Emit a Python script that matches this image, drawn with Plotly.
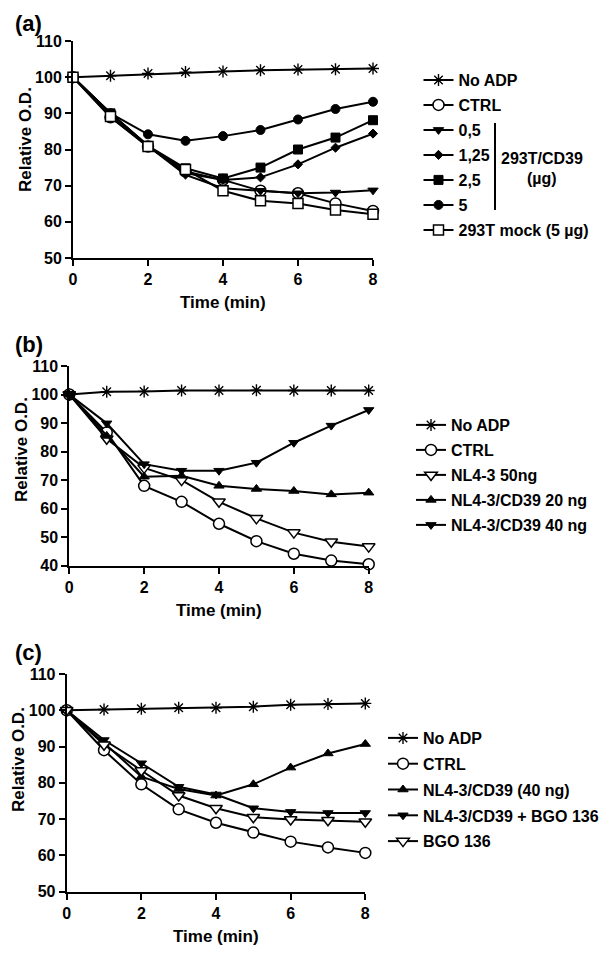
import plotly.graph_objects as go

W, H = 611, 959

time_min = [0, 1, 2, 3, 4, 5, 6, 7, 8]

# Panel (a)
a_no_adp = [100, 100.4, 101.0, 101.4, 101.6, 101.9, 102.1, 102.2, 102.4]
a_ctrl = [100, 88.9, 80.8, 73.9, 71.6, 68.6, 67.9, 65.1, 63.0]
a_05 = [100, 90.0, 81.0, 73.0, 69.3, 68.6, 67.9, 68.1, 68.7]
a_125 = [100, 90.0, 81.0, 73.5, 71.6, 72.3, 75.9, 80.5, 84.4]
a_25 = [100, 90.0, 81.0, 74.8, 72.0, 75.0, 80.0, 83.3, 88.1]
a_5 = [100, 90.0, 84.2, 82.4, 83.7, 85.4, 88.3, 91.2, 93.2]
a_mock = [100, 89.1, 80.8, 74.5, 68.6, 65.8, 65.1, 63.3, 62.1]

# Panel (b)
b_no_adp = [100, 101.0, 101.1, 101.4, 101.4, 101.5, 101.4, 101.4, 101.4]
b_ctrl = [100, 86.7, 68.0, 62.4, 54.7, 48.6, 44.2, 41.8, 40.5]
b_nl43_50 = [100, 84.5, 74.3, 70.0, 62.4, 56.6, 51.6, 48.4, 46.7]
b_cd39_20 = [100, 85.5, 71.2, 71.5, 68.0, 66.9, 66.2, 65.0, 65.6]
b_cd39_40 = [100, 89.9, 75.6, 73.3, 73.3, 76.1, 83.1, 89.1, 94.6]

# Panel (c)
c_no_adp = [100, 100.2, 100.4, 100.7, 100.7, 101.0, 101.5, 101.7, 101.9]
c_ctrl = [100, 89.0, 79.6, 72.7, 69.0, 66.3, 63.8, 62.2, 60.7]
c_cd39_40 = [100, 91.0, 81.7, 78.3, 76.5, 79.6, 84.2, 88.1, 90.7]
c_cd39_bgo = [100, 91.8, 85.4, 78.9, 76.8, 73.0, 72.0, 71.7, 71.7]
c_bgo = [100, 90.5, 83.4, 76.5, 73.0, 70.5, 69.9, 69.7, 69.3]

FONT = "Liberation Sans, Arial, Helvetica, sans-serif"


def px(x):
    return x / W


def py(y):
    return 1 - y / H


STYLES = {
    "asterisk": dict(symbol="asterisk-open", size=10, color="black", line=dict(color="black", width=1.4)),
    "ocircle": dict(symbol="circle", size=11, color="white", line=dict(color="black", width=1.5)),
    "fcircle": dict(symbol="circle", size=9, color="black", line=dict(color="black", width=1)),
    "fsquare": dict(symbol="square", size=9, color="black", line=dict(color="black", width=1)),
    "osquare": dict(symbol="square", size=10, color="white", line=dict(color="black", width=1.5)),
    "diamond": dict(symbol="diamond", size=7, color="black", line=dict(color="black", width=1)),
    "ftridown": dict(symbol="triangle-down", size=9, color="black", line=dict(color="black", width=1)),
    "otridown": dict(symbol="triangle-down", size=11, color="white", line=dict(color="black", width=1.5)),
    "ftriup": dict(symbol="triangle-up", size=9, color="black", line=dict(color="black", width=1)),
}

fig = go.Figure()


def add(name, ys, style, axis, legend):
    fig.add_trace(go.Scatter(
        x=time_min, y=ys, name=name, mode="lines+markers",
        line=dict(color="black", width=2),
        marker=STYLES[style],
        xaxis="x" + axis, yaxis="y" + axis,
        legend=legend, legendgroup=name + legend,
        cliponaxis=False,
    ))


add("No ADP", a_no_adp, "asterisk", "", "legend")
add("CTRL", a_ctrl, "ocircle", "", "legend")
add("0,5", a_05, "ftridown", "", "legend")
add("1,25", a_125, "diamond", "", "legend")
add("2,5", a_25, "fsquare", "", "legend")
add("5", a_5, "fcircle", "", "legend")
add("293T mock (5 µg)", a_mock, "osquare", "", "legend")

add("No ADP", b_no_adp, "asterisk", "2", "legend2")
add("CTRL", b_ctrl, "ocircle", "2", "legend2")
add("NL4-3 50ng", b_nl43_50, "otridown", "2", "legend2")
add("NL4-3/CD39 20 ng", b_cd39_20, "ftriup", "2", "legend2")
add("NL4-3/CD39 40 ng", b_cd39_40, "ftridown", "2", "legend2")

add("No ADP", c_no_adp, "asterisk", "3", "legend3")
add("CTRL", c_ctrl, "ocircle", "3", "legend3")
add("NL4-3/CD39 (40 ng)", c_cd39_40, "ftriup", "3", "legend3")
add("NL4-3/CD39 + BGO 136", c_cd39_bgo, "ftridown", "3", "legend3")
add("BGO 136", c_bgo, "otridown", "3", "legend3")

axis_common = dict(
    showline=True, linecolor="black", linewidth=2,
    ticks="outside", ticklen=6, tickwidth=2, tickcolor="black",
    showgrid=False, zeroline=False, automargin=False,
    tickfont=dict(family=FONT, size=16, color="black", weight="bold"),
)

panels = [
    # axis suffix, x0, x1, ytop, ybottom, ymin
    ("", 73, 373, 41, 258, 50),
    ("2", 69.3, 368.7, 366, 565.7, 40),
    ("3", 66.7, 365.3, 674, 891.7, 50),
]

layout = dict(
    width=W, height=H,
    margin=dict(l=0, r=0, t=0, b=0, autoexpand=False),
    paper_bgcolor="white", plot_bgcolor="white",
    font=dict(family=FONT, color="black"),
)

for suf, x0, x1, yt, yb, ymin in panels:
    layout["xaxis" + suf] = dict(
        domain=[px(x0), px(x1)], range=[0, 8], tickvals=[0, 2, 4, 6, 8],
        anchor="y" + suf, **axis_common)
    layout["yaxis" + suf] = dict(
        domain=[py(yb), py(yt)], range=[ymin, 110],
        tickvals=list(range(ymin, 111, 10)),
        anchor="x" + suf, **axis_common)

legend_common = dict(
    font=dict(family=FONT, size=16, color="black", weight="bold"),
    bgcolor="rgba(0,0,0,0)", borderwidth=0,
    xanchor="left", yanchor="top", itemwidth=30, itemclick=False,
)
layout["legend"] = dict(x=px(418.5), y=py(63), tracegroupgap=1.2, **legend_common)
layout["legend2"] = dict(x=px(411), y=py(408), tracegroupgap=1.2, **legend_common)
layout["legend3"] = dict(x=px(383), y=py(721), tracegroupgap=2.0, **legend_common)

fig.update_layout(**layout)

title_font = dict(family=FONT, size=17, color="black", weight="bold")
label_font = dict(family=FONT, size=22, color="black", weight="bold")

# Panel labels
for txt, y in [("(a)", 24), ("(b)", 344), ("(c)", 652)]:
    fig.add_annotation(text=txt, x=px(13), y=py(y), xref="paper", yref="paper",
                       xanchor="left", yanchor="middle", showarrow=False, font=label_font)

# Axis titles
for (cx, cy_y), (tx, ty) in [((25, 140), (223, 303)), ((21, 450), (219, 610)), ((18, 760), (216, 936))]:
    fig.add_annotation(text="Relative O.D.", x=px(cx), y=py(cy_y), xref="paper", yref="paper",
                       textangle=-90, showarrow=False, font=title_font,
                       xanchor="center", yanchor="middle")
    fig.add_annotation(text="Time (min)", x=px(tx), y=py(ty), xref="paper", yref="paper",
                       showarrow=False, font=title_font, xanchor="center", yanchor="middle")

# Bracket for 293T/CD39 group in panel (a)
bracket_font = dict(family=FONT, size=16, color="black", weight="bold")
fig.add_shape(type="line", xref="paper", yref="paper",
              x0=px(495), x1=px(495), y0=py(123), y1=py(210),
              line=dict(color="black", width=2))
fig.add_annotation(text="293T/CD39", x=px(542), y=py(158), xref="paper", yref="paper",
                   xanchor="center", yanchor="middle", showarrow=False, font=bracket_font)
fig.add_annotation(text="(µg)", x=px(542), y=py(178), xref="paper", yref="paper",
                   xanchor="center", yanchor="middle", showarrow=False, font=bracket_font)

fig.write_html(
    "out.html",
    config={"displayModeBar": False},
    post_script="document.body.style.margin='0';document.body.style.overflow='hidden';",
)
